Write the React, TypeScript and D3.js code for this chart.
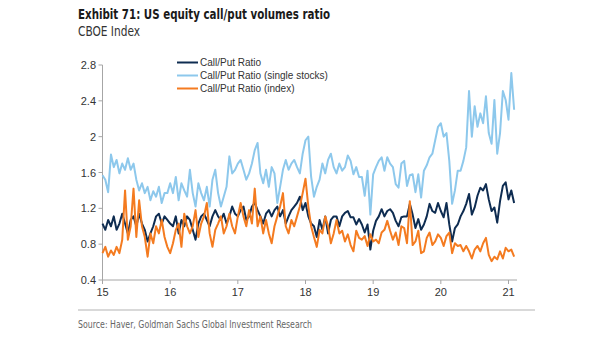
import React from "react";
import * as d3 from "d3";

// Half-monthly observations starting Jan 2015
const START_YEAR = 2015;
const STEP = 1 / 24;

const callPut: number[] = [
  1.03, 0.96, 1.07, 1.0, 1.11, 0.96, 1.03, 1.14, 1.03, 0.92, 1.07, 1.11, 1.0, 1.14, 1.03, 0.96, 0.83, 0.92, 1.0, 1.11, 1.14, 1.03, 1.11, 1.07,
  1.03, 1.0, 1.11, 0.92, 1.07, 1.0, 1.11, 1.07, 0.96, 0.85, 1.03, 1.11, 1.14, 1.07, 1.0, 1.11, 1.18, 1.11, 1.07, 1.14, 1.03, 1.11, 1.22, 1.14,
  1.11, 1.18, 1.22, 1.07, 1.11, 1.22, 1.26, 1.18, 1.11, 1.03, 1.14, 1.18, 1.11, 1.18, 1.22, 1.11, 1.18, 1.03, 1.11, 1.18, 1.22, 1.26, 1.33, 1.18,
  1.26, 1.11, 1.03, 1.0, 0.88, 1.07, 0.96, 1.11, 0.92, 1.07, 1.11, 1.11, 1.0, 1.11, 1.15, 1.17, 1.1, 1.1, 1.02, 1.08, 1.02, 0.93, 1.02, 0.74,
  0.95, 1.06, 1.11, 1.19, 1.11, 1.17, 1.19, 1.15, 1.06, 1.0, 1.1, 1.11, 1.11, 1.25, 1.13, 0.98, 1.08, 0.96, 1.02, 1.11, 1.25, 1.17, 1.15, 1.26,
  1.17, 1.1, 1.26, 1.02, 0.83, 0.98, 1.02, 1.11, 1.17, 1.25, 1.36, 1.13, 1.21, 1.34, 1.43, 1.4, 1.47, 1.3, 1.17, 1.21, 1.04, 1.28, 1.45, 1.49,
  1.3, 1.4, 1.26,
];

const singleStocks: number[] = [
  1.57, 1.52, 1.38, 1.8, 1.66, 1.74, 1.59, 1.7, 1.63, 1.76, 1.63, 1.7, 1.52, 1.4, 1.48, 1.37, 1.44, 1.29, 1.39, 1.33, 1.44, 1.26, 1.37, 1.37,
  1.48, 1.37, 1.55, 1.29, 1.48, 1.4, 1.33, 1.63, 1.37, 1.22, 1.48, 1.37, 1.29, 1.44, 1.22, 1.52, 1.63, 1.37, 1.22, 1.33, 1.44, 1.78, 1.59, 1.63,
  1.7, 1.74, 1.63, 1.52, 1.59, 1.7, 1.85, 1.93, 1.59, 1.48, 1.63, 1.44, 1.66, 1.59, 1.26, 1.44, 1.63, 1.74, 1.63, 1.7, 1.74, 1.66, 1.59, 1.81,
  1.96, 2.0, 1.55, 1.33, 1.44, 1.52, 1.7, 1.59, 1.74, 1.81, 1.66, 1.59, 1.7, 1.62, 1.66, 1.79, 1.73, 1.58, 1.66, 1.55, 1.55, 1.34, 1.62, 1.13,
  1.58, 1.66, 1.73, 1.77, 1.62, 1.77, 1.7, 1.66, 1.47, 1.43, 1.7, 1.73, 1.45, 1.57, 1.58, 1.38, 1.58, 1.32, 1.62, 1.68, 1.77, 1.81, 1.96, 2.11,
  2.15, 2.0, 2.04, 1.73, 1.25, 1.4, 1.62, 1.62, 1.73, 1.88, 2.51, 2.0, 2.34, 2.11, 2.26, 2.15, 2.45, 2.04, 1.92, 2.41, 1.81, 2.04, 2.51, 2.41,
  2.19, 2.71, 2.3,
];

const indexRatio: number[] = [
  0.7, 0.77, 0.66, 0.73, 0.68, 0.77, 0.7, 0.85, 1.4, 0.85, 1.0, 1.42, 0.88, 1.29, 1.0, 0.88, 0.66, 0.92, 0.81, 1.0, 0.92, 1.07, 0.88, 0.77,
  0.7, 0.81, 0.96, 1.03, 0.77, 1.14, 1.0, 0.92, 1.0, 1.18, 0.88, 1.03, 1.11, 1.26, 0.92, 0.77, 0.96, 1.03, 1.11, 0.92, 1.0, 1.14, 1.0, 0.92,
  1.11, 1.26, 1.11, 1.0, 1.18, 1.03, 1.42, 1.0, 1.11, 0.92, 1.07, 0.92, 0.81, 1.0, 1.11, 1.22, 1.37, 1.0, 0.92, 1.07, 1.0, 1.11, 1.22, 1.37,
  1.53, 1.22, 1.0, 0.88, 0.77, 0.96, 0.92, 1.11, 1.0, 0.81, 0.92, 1.07, 0.92, 0.95, 0.83, 0.91, 0.79, 0.72, 0.95, 0.87, 0.85, 0.89, 0.78, 0.91,
  0.83, 0.85, 0.81, 0.93, 0.96, 1.06, 0.95, 0.85, 0.93, 0.79, 1.0, 0.98, 0.81, 1.28, 0.79, 0.83, 0.95, 0.7, 0.72, 0.87, 0.93, 0.79, 0.83, 0.91,
  0.87, 0.78, 0.89, 0.93, 0.7, 0.81, 0.78, 0.79, 0.72, 0.78, 0.72, 0.64, 0.74, 0.78, 0.72, 0.81, 0.87, 0.68, 0.61, 0.66, 0.63, 0.72, 0.64, 0.76,
  0.72, 0.74, 0.66,
];

const yTicks = [0.4, 0.8, 1.2, 1.6, 2.0, 2.4, 2.8];
const xTicks = [2015, 2016, 2017, 2018, 2019, 2020, 2021];

const series = [
  { name: "Call/Put Ratio", values: callPut, color: "#0e2c51" },
  { name: "Call/Put Ratio (single stocks)", values: singleStocks, color: "#8dc8ec" },
  { name: "Call/Put Ratio (index)", values: indexRatio, color: "#f47b20" },
];

const W = 605;
const H = 341;
const narrow = "'Liberation Sans Narrow', 'Arial Narrow', 'DejaVu Sans Condensed', sans-serif";
const sans = "'Liberation Sans', Arial, sans-serif";

export default function App() {
  const x = d3.scaleLinear().domain([2015, 2021]).range([102.5, 508.5]);
  const y = d3.scaleLinear().domain([0.4, 2.8]).range([280, 65]);
  const line = d3
    .line<number>()
    .x((_, i) => x(START_YEAR + i * STEP))
    .y((d) => y(d))
    .curve(d3.curveLinear);

  const axisColor = "#a6a6a6";
  return (
    <svg
      width={W}
      height={H}
      style={{ position: "absolute", left: 0, top: 0, background: "#fff" }}
    >
      <text
        x={78}
        y={19}
        fontFamily={narrow}
        fontWeight="bold"
        fontSize={14.5}
        fill="#1a1a1a"
        textLength={252}
        lengthAdjust="spacingAndGlyphs"
      >
        Exhibit 71: US equity call/put volumes ratio
      </text>
      <text
        x={78}
        y={36}
        fontFamily={narrow}
        fontSize={13.5}
        fill="#333"
        textLength={62}
        lengthAdjust="spacingAndGlyphs"
      >
        CBOE Index
      </text>

      {/* axes */}
      <line x1={102.5} x2={102.5} y1={y(2.8)} y2={y(0.4)} stroke={axisColor} strokeWidth={1} />
      <line x1={102.5} x2={517} y1={y(0.4)} y2={y(0.4)} stroke={axisColor} strokeWidth={1} />
      {yTicks.map((t) => (
        <g key={t}>
          <line x1={98.5} x2={102.5} y1={y(t)} y2={y(t)} stroke={axisColor} />
          <text x={96} y={y(t) + 4} textAnchor="end" fontFamily={sans} fontSize={11} fill="#333">
            {d3.format("~g")(t)}
          </text>
        </g>
      ))}
      {xTicks.map((t) => (
        <g key={t}>
          <line x1={x(t)} x2={x(t)} y1={280} y2={284} stroke={axisColor} />
          <text x={x(t)} y={296} textAnchor="middle" fontFamily={sans} fontSize={11} fill="#333">
            {String(t).slice(2)}
          </text>
        </g>
      ))}

      {/* lines */}
      {series.map((s) => (
        <path
          key={s.name}
          d={line(s.values) || ""}
          fill="none"
          stroke={s.color}
          strokeWidth={2}
          strokeLinejoin="round"
        />
      ))}

      {/* legend */}
      {series.map((s, i) => (
        <g key={s.name} transform={`translate(0, ${62.5 + i * 13})`}>
          <line x1={177} x2={198} y1={0} y2={0} stroke={s.color} strokeWidth={2} />
          <text x={200} y={3.8} fontFamily={sans} fontSize={10} fill="#333">
            {s.name}
          </text>
        </g>
      ))}

      {/* source */}
      <line x1={78} x2={535} y1={310} y2={310} stroke="#b3b3b3" strokeWidth={1} />
      <text
        x={78}
        y={328}
        fontFamily={narrow}
        fontSize={11}
        fill="#666"
        textLength={234}
        lengthAdjust="spacingAndGlyphs"
      >
        Source: Haver, Goldman Sachs Global Investment Research
      </text>
    </svg>
  );
}
